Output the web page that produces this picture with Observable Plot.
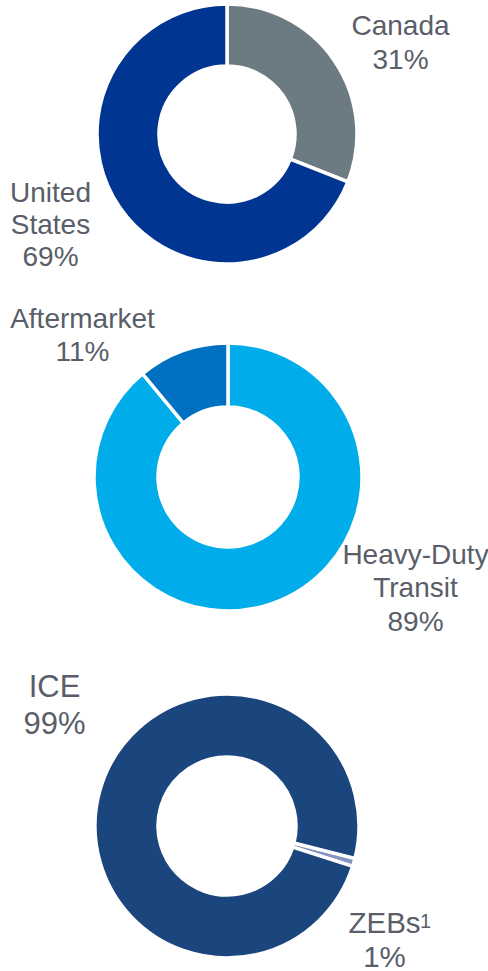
<!DOCTYPE html>
<html>
<head>
<meta charset="utf-8">
<script src="https://cdn.jsdelivr.net/npm/d3@7"></script>
<script src="https://cdn.jsdelivr.net/npm/@observablehq/plot@0.6"></script>
<style>
  html, body { margin: 0; padding: 0; background: #fff; }
  #chart svg { display: block; }
</style>
</head>
<body>
<div id="chart"></div>
<script>
// ---- Data ----
const geoLabels = ["Canada", "United States"];
const geoShares = [31, 69];
const geoColors = ["#6C7A81", "#003591"];

const segmentLabels = ["Heavy-Duty Transit", "Aftermarket"];
const segmentShares = [89, 11];
const segmentColors = ["#00ADEA", "#0070C0"];

const powertrainLabels = ["ZEBs", "ICE"];
const powertrainShares = [1, 99];
const powertrainColors = ["#8796BE", "#1B457D"];

// ---- Layout (positions / styles) ----
const donuts = [
  {labels: geoLabels, values: geoShares, colors: geoColors, cx: 227, cy: 134, outer: 130, inner: 68, start: 0},
  {labels: segmentLabels, values: segmentShares, colors: segmentColors, cx: 228, cy: 477, outer: 134, inner: 70, start: 0},
  {labels: powertrainLabels, values: powertrainShares, colors: powertrainColors, cx: 227, cy: 826, outer: 132, inner: 69, start: 104.2}
];

// label anchor: center x, baseline of last line, font size
const labelLayout = {
  "Canada":             {x: 400, y: 68,  size: 28,   lh: 1.18},
  "United States":      {x: 50,  y: 265, size: 28,   lh: 1.13},
  "Aftermarket":        {x: 82,  y: 360, size: 28,   lh: 1.15},
  "Heavy-Duty Transit": {x: 415, y: 630, size: 28,   lh: 1.18},
  "ICE":                {x: 54,  y: 733, size: 31,   lh: 1.19},
  "ZEBs":               {x: 384, y: 966, size: 29.5, lh: 1.12}
};
const textColor = "#595E69";

// ---- Build arcs ----
function donutMark(spec) {
  return (index, scales) => {
    const sx = scales.x, sy = scales.y;
    const rows = spec.labels.map((l, i) => ({label: l, value: spec.values[i], color: spec.colors[i]}));
    const a0 = spec.start * Math.PI / 180;
    const pie = d3.pie().sort(null).value(d => d.value).startAngle(a0).endAngle(a0 + 2 * Math.PI);
    const arc = d3.arc().innerRadius(spec.inner).outerRadius(spec.outer);
    const g = d3.create("svg:g")
      .attr("transform", `translate(${sx(spec.cx)},${sy(spec.cy)})`);
    g.selectAll("path")
      .data(pie(rows))
      .join("path")
      .attr("d", arc)
      .attr("fill", d => d.data.color)
      .attr("stroke", "#fff")
      .attr("stroke-width", 3.5)
      .attr("stroke-linejoin", "miter");
    return g.node();
  };
}

const allLabels = [];
donuts.forEach(s => s.labels.forEach((l, i) => {
  const lay = labelLayout[l];
  allLabels.push({
    text: l.replace(/ /g, "\n") + "\n" + s.values[i] + "%",
    x: lay.x, y: lay.y, size: lay.size, lh: lay.lh
  });
}));

const textMarks = allLabels.map(d => Plot.text([d], {
  x: "x", y: "y", text: "text",
  fontSize: d.size, lineHeight: d.lh,
  textAnchor: "middle", lineAnchor: "bottom",
  fill: textColor
}));

const chart = Plot.plot({
  width: 488,
  height: 971,
  margin: 0,
  axis: null,
  x: {domain: [0, 488], range: [0, 488]},
  y: {domain: [0, 971], range: [0, 971]},
  style: {fontFamily: "'Liberation Sans', Arial, sans-serif", background: "#fff"},
  marks: [
    ...donuts.map(donutMark),
    ...textMarks,
    Plot.text(["1"], {x: () => 425, y: () => 927, text: d => d, fontSize: 20, fill: textColor, textAnchor: "middle", lineAnchor: "bottom"})
  ]
});
document.getElementById("chart").appendChild(chart);
</script>
</body>
</html>
